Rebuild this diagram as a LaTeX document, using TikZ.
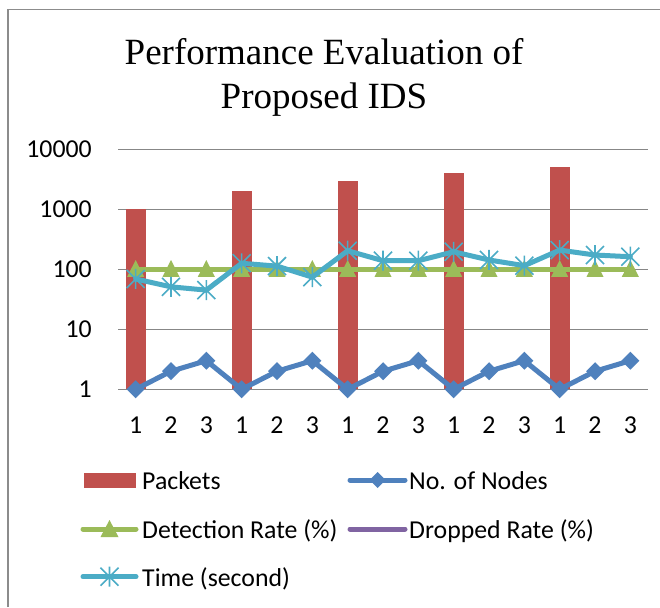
\documentclass[tikz,border=0pt]{standalone}
\usepackage{fontspec}
\setmainfont{Carlito}
\newfontfamily\titlefont{Liberation Serif}
\definecolor{packc}{HTML}{C0504D}
\definecolor{nodec}{HTML}{4F81BD}
\definecolor{detc}{HTML}{9BBB59}
\definecolor{dropc}{HTML}{8064A2}
\definecolor{timec}{HTML}{4BACC6}
\definecolor{gridc}{HTML}{878787}
\definecolor{framec}{HTML}{8C8C8C}
\begin{document}
\begin{tikzpicture}[x=1pt,y=-1pt,
  gridline/.style={gridc, line width=1.5pt},
  lbl/.style={font=\fontsize{25.8}{30}\selectfont, inner sep=0pt},
  ttl/.style={font=\titlefont\fontsize{37}{43}\selectfont, inner sep=0pt, anchor=base},
  serline/.style={line width=5pt, line join=round, line cap=round},
  bar/.style={fill=packc},
  diamondmark/.style={fill=nodec},
  trimark/.style={fill=detc},
  starmark/.style={draw=timec, line width=1.6pt}
]
\useasboundingbox (0,0) rectangle (660,607);
\fill[white] (0,0) rectangle (660,607);
% frame
\draw[framec, line width=1.5pt] (8,607) -- (8,9.5) -- (660,9.5);
% title
\node[ttl] (title1) at (324,65) {Performance Evaluation of};
\node[ttl] (title2) at (324,108.3) {Proposed IDS};
% grid and y labels
\foreach \k/\t in {0/1,1/10,2/100,3/1000,4/10000} {
  \pgfmathsetmacro\gy{389.3-60*\k}
  \draw[gridline] (118,\gy) -- (648,\gy);
  \node[lbl, anchor=base east] (ylab\k) at (92,\gy+8.5) {\t};
}
% x labels
\foreach \c [count=\i from 0] in {1,2,3,1,2,3,1,2,3,1,2,3,1,2,3} {
  \pgfmathsetmacro\xx{118+35.333*(\i+0.5)}
  \node[lbl, anchor=base] (xlab\i) at (\xx,433.3) {\c};
}
% bars
\foreach \v/\i in {1000/0,2000/3,3000/6,4000/9,5000/12} {
  \pgfmathsetmacro\xx{118+35.333*(\i+0.5)}
  \pgfmathsetmacro\yy{389.3-60*ln(\v)/ln(10)}
  \fill[bar] (\xx-10,389.3) rectangle (\xx+10,\yy);
}
% coordinates of series
\foreach \v [count=\i from 0] in {1,2,3,1,2,3,1,2,3,1,2,3,1,2,3} {
  \pgfmathsetmacro\xx{118+35.333*(\i+0.5)}
  \pgfmathsetmacro\yy{389.3-60*ln(\v)/ln(10)}
  \coordinate (n\i) at (\xx,\yy);
  \coordinate (d\i) at (\xx,269.3);
}
\foreach \v [count=\i from 0] in {69,51,45,126,113,74,204,139,139,196,143,115,209,173,162} {
  \pgfmathsetmacro\xx{118+35.333*(\i+0.5)}
  \pgfmathsetmacro\yy{389.3-60*ln(\v)/ln(10)}
  \coordinate (t\i) at (\xx,\yy);
}
% No. of Nodes
\draw[serline, nodec] (n0) \foreach \i in {1,...,14}{ -- (n\i)};
\foreach \i in {0,...,14} {
  \fill[diamondmark] ([shift={(0,-9)}]n\i) -- ([shift={(9,0)}]n\i) -- ([shift={(0,9)}]n\i) -- ([shift={(-9,0)}]n\i) -- cycle;
}
% Detection Rate
\draw[serline, detc, line cap=butt] (d0) -- (d14);
\foreach \i in {0,...,14} {
  \fill[trimark] ([shift={(0,-9.3)}]d\i) -- ([shift={(8.5,7.5)}]d\i) -- ([shift={(-8.5,7.5)}]d\i) -- cycle;
}
% Time
\draw[serline, timec] (t0) \foreach \i in {1,...,14}{ -- (t\i)};
\foreach \i in {0,...,14} {
  \draw[starmark] ([shift={(-9,-9)}]t\i) -- ([shift={(9,9)}]t\i)
    ([shift={(-9,9)}]t\i) -- ([shift={(9,-9)}]t\i)
    ([shift={(0,-10)}]t\i) -- ([shift={(0,10)}]t\i);
}
% legend
\fill[bar] (84,473.3) rectangle (136,487.7);
\node[lbl, anchor=base west] (lg1) at (142,489.3) {Packets};
\coordinate (la) at (350,480); \coordinate (lb) at (405,480); \coordinate (lm) at (377.7,480);
\draw[serline, nodec] (la) -- (lb);
\fill[diamondmark] ([shift={(0,-8)}]lm) -- ([shift={(8,0)}]lm) -- ([shift={(0,8)}]lm) -- ([shift={(-8,0)}]lm) -- cycle;
\node[lbl, anchor=base west] (lg2) at (409,489.3) {No. of Nodes};
\coordinate (lc) at (83,529); \coordinate (ld) at (136,529); \coordinate (ln) at (109.5,529);
\draw[serline, detc] (lc) -- (ld);
\fill[trimark] ([shift={(0,-9)}]ln) -- ([shift={(9,8)}]ln) -- ([shift={(-9,8)}]ln) -- cycle;
\node[lbl, anchor=base west] (lg3) at (142,538.3) {Detection Rate (\%)};
\coordinate (le) at (350,529); \coordinate (lf) at (405,529);
\draw[serline, dropc] (le) -- (lf);
\node[lbl, anchor=base west] (lg4) at (409,538.3) {Dropped Rate (\%)};
\coordinate (lg) at (83,576.7); \coordinate (lh) at (136,576.7); \coordinate (lo) at (109.5,576.7);
\draw[serline, timec] (lg) -- (lh);
\draw[starmark] ([shift={(-9,-9)}]lo) -- ([shift={(9,9)}]lo)
  ([shift={(-9,9)}]lo) -- ([shift={(9,-9)}]lo)
  ([shift={(0,-10)}]lo) -- ([shift={(0,10)}]lo);
\node[lbl, anchor=base west] (lg5) at (142,586) {Time (second)};
\end{tikzpicture}
\end{document}
